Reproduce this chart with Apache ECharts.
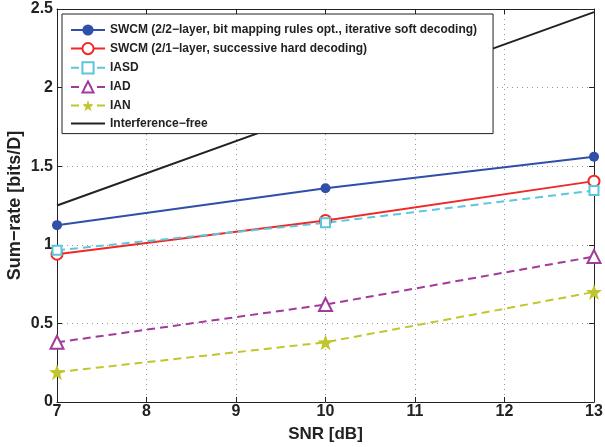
<!DOCTYPE html>
<html>
<head>
<meta charset="utf-8">
<script src="https://cdn.jsdelivr.net/npm/echarts@6/dist/echarts.min.js"></script>
<style>
  html, body { margin: 0; padding: 0; background: #fff; }
  #chart { width: 605px; height: 447px; }
</style>
</head>
<body>
<div id="chart"></div>
<script>
// valores
const snr = [7, 10, 13];
const swcm22 = [1.125, 1.36, 1.56];
const swcm21 = [0.94, 1.155, 1.405];
const iasd = [0.965, 1.14, 1.345];
const iad = [0.38, 0.62, 0.925];
const ian = [0.19, 0.38, 0.70];
const intFree = [1.25, 1.865, 2.48];

const names = [
    'SWCM (2/2\u2212layer, bit mapping rules opt., iterative soft decoding)',
    'SWCM (2/1\u2212layer, successive hard decoding)',
    'IASD',
    'IAD',
    'IAN',
    'Interference\u2212free'
];

const font = 'Liberation Sans, Arial, Helvetica, sans-serif';

function pts(ys) {
    return snr.map((x, i) => [x, ys[i]]);
}

const chart = echarts.init(document.getElementById('chart'));

const gridLine = { show: true, lineStyle: { color: '#999', type: [1, 4], width: 1 } };
const tickLabel = { color: '#222', fontSize: 16, fontWeight: 'bold', fontFamily: font };

chart.setOption({
    backgroundColor: '#ffffff',
    animation: false,
    grid: { left: 57, right: 11, top: 9, bottom: 45, outerBoundsMode: 'none', containLabel: false },
    legend: {
        orient: 'vertical',
        left: 62,
        top: 14,
        backgroundColor: '#ffffff',
        borderColor: '#222',
        borderWidth: 1,
        padding: [10, 16, 4, 8],
        itemGap: 6,
        itemWidth: 34,
        itemHeight: 14,
        textStyle: { color: '#222', fontSize: 12, fontWeight: 'bold', fontFamily: font },
        data: names
    },
    xAxis: [{
        type: 'value',
        min: 7, max: 13, interval: 1,
        name: 'SNR [dB]',
        nameLocation: 'middle',
        nameGap: 24,
        nameMoveOverlap: false,
        nameTextStyle: { color: '#222', fontSize: 17, fontWeight: 'bold', fontFamily: font, verticalAlign: 'top' },
        axisLine: { show: true, lineStyle: { color: '#222', width: 1 } },
        axisTick: { show: true, inside: true, length: 5, lineStyle: { color: '#222' } },
        axisLabel: Object.assign({ margin: 2 }, tickLabel),
        splitLine: gridLine
    }, {
        type: 'value',
        position: 'top',
        min: 7, max: 13, interval: 1,
        axisLine: { show: true, onZero: false, lineStyle: { color: '#222', width: 1 } },
        axisTick: { show: true, inside: true, length: 5, lineStyle: { color: '#222' } },
        axisLabel: { show: false },
        splitLine: { show: false }
    }],
    yAxis: [{
        type: 'value',
        min: 0, max: 2.5, interval: 0.5,
        name: 'Sum\u2212rate [bits/D]',
        nameLocation: 'middle',
        nameGap: 33,
        nameMoveOverlap: false,
        nameTextStyle: { color: '#222', fontSize: 18, fontWeight: 'bold', fontFamily: font },
        axisLine: { show: true, lineStyle: { color: '#222', width: 1 } },
        axisTick: { show: true, inside: true, length: 5, lineStyle: { color: '#222' } },
        axisLabel: Object.assign({ margin: 4 }, tickLabel),
        splitLine: gridLine
    }, {
        type: 'value',
        position: 'right',
        min: 0, max: 2.5, interval: 0.5,
        axisLine: { show: true, onZero: false, lineStyle: { color: '#222', width: 1 } },
        axisTick: { show: true, inside: true, length: 5, lineStyle: { color: '#222' } },
        axisLabel: { show: false },
        splitLine: { show: false }
    }],
    series: [{
        name: names[0],
        type: 'line',
        data: pts(swcm22),
        symbol: 'circle',
        symbolSize: 10,
        itemStyle: { color: '#2F4FA8' },
        lineStyle: { color: '#2F4FA8', width: 2 }
    }, {
        name: names[1],
        type: 'line',
        data: pts(swcm21),
        symbol: 'emptyCircle',
        symbolSize: 11,
        itemStyle: { color: '#F02828', borderWidth: 2 },
        lineStyle: { color: '#F02828', width: 2 }
    }, {
        name: names[2],
        type: 'line',
        data: pts(iasd),
        symbol: 'emptyRect',
        symbolSize: 9,
        itemStyle: { color: '#5CC6DC', borderWidth: 2 },
        lineStyle: { color: '#5CC6DC', width: 2, type: [8, 5] }
    }, {
        name: names[3],
        type: 'line',
        data: pts(iad),
        symbol: 'emptyTriangle',
        symbolSize: 13,
        itemStyle: { color: '#A23A9C', borderWidth: 2 },
        lineStyle: { color: '#A23A9C', width: 2, type: [8, 5] }
    }, {
        name: names[4],
        type: 'line',
        data: pts(ian),
        symbol: 'path://M0,-10 L2.35,-3.24 L9.51,-3.09 L3.8,1.24 L5.88,8.09 L0,4 L-5.88,8.09 L-3.8,1.24 L-9.51,-3.09 L-2.35,-3.24 Z',
        symbolSize: 16,
        itemStyle: { color: '#C0C62C' },
        lineStyle: { color: '#C0C62C', width: 2, type: [8, 5] }
    }, {
        name: names[5],
        type: 'line',
        data: pts(intFree),
        symbol: 'none',
        // relleno transparente: la leyenda sólo dibuja la línea
        itemStyle: { color: 'rgba(0,0,0,0)' },
        lineStyle: { color: '#222', width: 2 }
    }]
});
</script>
</body>
</html>
